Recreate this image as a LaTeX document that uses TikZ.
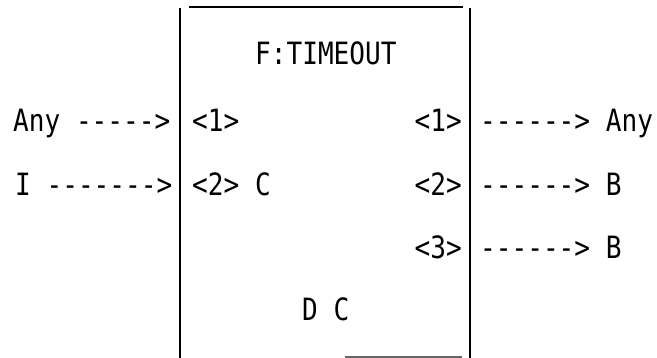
\documentclass[tikz,border=0pt]{standalone}
\usepackage{fontspec}
\setmonofont[FakeStretch=0.85]{DejaVu Sans Mono}
\usetikzlibrary{positioning}

\begin{document}
\begin{tikzpicture}[
  x=1pt, y=-1pt,
  txt/.style={inner sep=0pt, anchor=base west,
    font=\ttfamily\fontsize{30.7}{36}\selectfont},
  wall/.style={line width=2.4pt},
  rim/.style={line width=1.4pt}
]
\useasboundingbox (0,0) rectangle (657,358);
% frame of the block
\coordinate (lt) at (180,8);
\coordinate (lb) at (180,358);
\coordinate (rt) at (470,8);
\coordinate (rb) at (470,358);
\coordinate (tl) at (189,7);
\coordinate (tr) at (463,7);
\coordinate (bl) at (345,357);
\coordinate (br) at (462,357);
\draw[wall] (lt) -- (lb);
\draw[wall] (rt) -- (rb);
\draw[rim] (tl) -- (tr);
\draw[rim, black!60] (bl) -- (br);
% texts inside
\node[txt] (title) at (255,65) {F:TIMEOUT};
\node[txt] (inA) at (192,132) {<1>};
\node[txt] (inB) at (192,196) {<2> C};
\node[txt, anchor=base east] (outA) at (462,132) {<1>};
\node[txt, anchor=base east] (outB) at (462,196) {<2>};
\node[txt, anchor=base east] (outC) at (462,259) {<3>};
\node[txt] (dc) at (302,321) {D C};
% inputs and outputs
\node[txt] (srcA) at (13,132) {Any ----->};
\node[txt] (srcB) at (15,196) {I ------->};
\node[txt] (dstA) at (480,132) {------> Any};
\node[txt] (dstB) at (480,196) {------> B};
\node[txt] (dstC) at (480,259) {------> B};
\end{tikzpicture}
\end{document}
